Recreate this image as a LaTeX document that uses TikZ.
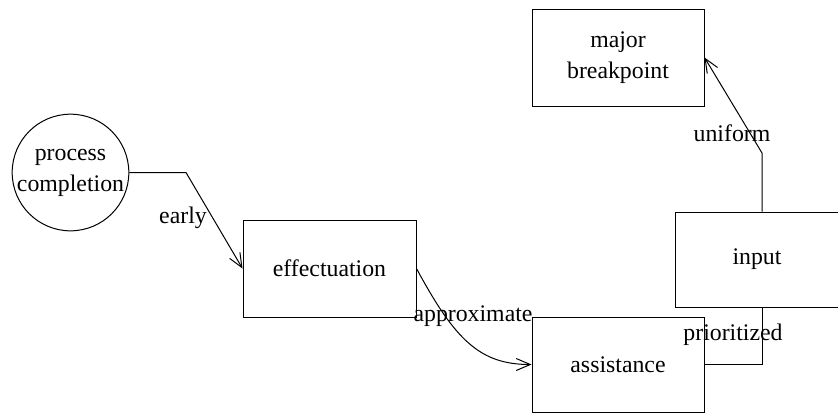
\documentclass[tikz,border=0pt]{standalone}
\usepackage{fontspec}
\setmainfont{Liberation Serif}
\newfontfamily\diagfont{Liberation Serif}
\usetikzlibrary{arrows.meta}
\begin{document}
\begin{tikzpicture}[x=0.5pt,y=-0.5pt,
  every node/.style={font=\diagfont\fontsize{11.9}{15.5}\selectfont},
  box/.style={draw, line width=0.5pt, inner sep=0pt, align=center},
  circ/.style={draw, circle, line width=0.5pt, inner sep=0pt, align=center, minimum size=57.5pt},
  conn/.style={line width=0.5pt},
  arr/.style={conn, -{Straight Barb[length=7pt,width=6pt,line width=0.5pt]}},
  lbl/.style={inner sep=0pt}
]
\useasboundingbox (0,0) rectangle (838,413);
\node[circ] (pc) at (70.5,172.5) {process\\completion};
\node[box, minimum width=86.5pt, minimum height=48.5pt] (eff) at (329.5,268.5) {effectuation};
\node[box, minimum width=86pt, minimum height=47.5pt] (ass) at (618,364.5) {assistance};
\node[box, minimum width=82pt, minimum height=47.5pt] (inp) at (757,259.5) {input};
\node[box, minimum width=86pt, minimum height=48.5pt] (maj) at (618,57.5) {major\\breakpoint};
\coordinate (c1) at (186,172.5);
\coordinate (c2) at (762,364.5);
\coordinate (c3) at (762,153);
\draw[arr] (pc.east) -- (c1) -- (eff.west);
\draw[arr] (eff.east) .. controls (455,340) and (480,364.5) .. (ass.west);
\draw[conn] (ass.east) -- (c2) -- (c2 |- inp.south);
\draw[arr] (c3 |- inp.north) -- (c3) -- (maj.east);
\node[lbl] (l1) at (183,218) {early};
\node[lbl] (l2) at (473,316) {approximate};
\node[lbl] (l3) at (733,335) {prioritized};
\node[lbl] (l4) at (732,133) {uniform};
\end{tikzpicture}
\end{document}
